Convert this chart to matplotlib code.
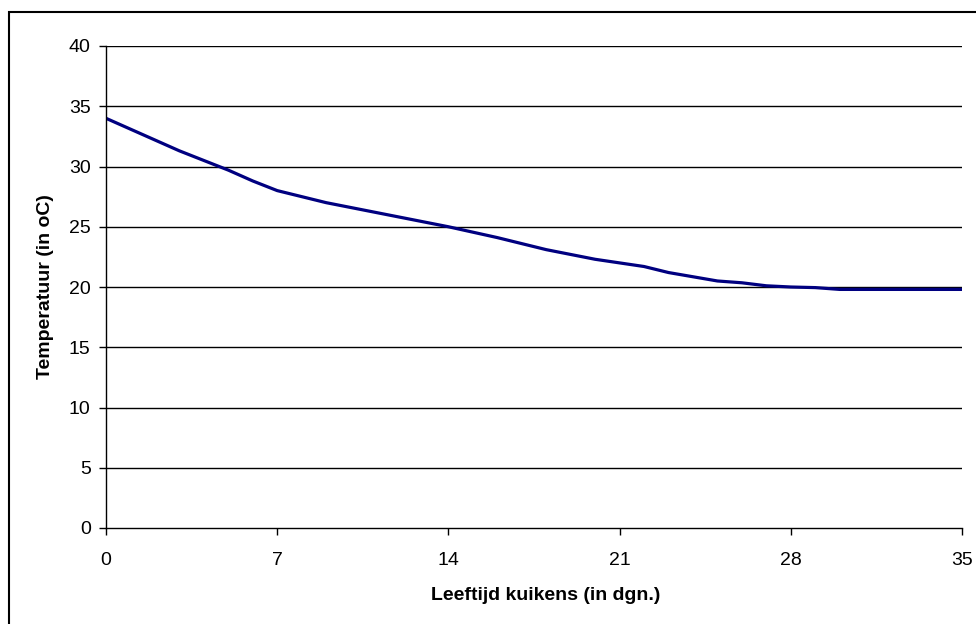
import matplotlib
matplotlib.use("Agg")
import matplotlib.pyplot as plt
from matplotlib.patches import Rectangle

plt.rcParams['font.family'] = ['Liberation Sans', 'DejaVu Sans']

# leeftijd in dagen en temperatuur (graden C)
dagen = list(range(0, 36))
temperatuur = [34.0, 33.1, 32.2, 31.3, 30.5, 29.7, 28.8, 28.0,
               27.5, 27.0, 26.6, 26.2, 25.8, 25.4, 25.0,
               24.55, 24.1, 23.6, 23.1, 22.7, 22.3, 22.0, 21.7,
               21.2, 20.85, 20.5, 20.35, 20.1, 20.0, 19.95, 19.8,
               19.8, 19.8, 19.8, 19.8, 19.8]

x_ticks = [0, 7, 14, 21, 28, 35]
y_ticks = [0, 5, 10, 15, 20, 25, 30, 35, 40]

fig = plt.figure(figsize=(9.76, 6.24), dpi=100)
ax = fig.add_axes([106 / 976, 96 / 624, 856 / 976, 482 / 624])

ax.plot(dagen, temperatuur, color='#000080', linewidth=2.3, solid_joinstyle='round')

ax.set_xlim(0, 35)
ax.set_ylim(0, 40)
ax.set_xticks(x_ticks)
ax.set_yticks(y_ticks)

for y in y_ticks[1:]:
    ax.axhline(y, color='black', linewidth=1.0, zorder=0)

for side in ['top', 'right']:
    ax.spines[side].set_visible(False)
for side in ['left', 'bottom']:
    ax.spines[side].set_color('black')
    ax.spines[side].set_linewidth(1.0)

ax.tick_params(axis='x', direction='out', length=5, width=1, pad=12, labelsize=14)
ax.tick_params(axis='y', direction='out', length=5, width=1, pad=6, labelsize=14)

ax.set_xlabel('Leeftijd kuikens (in dgn.)', fontsize=14, fontweight='bold')
ax.xaxis.set_label_coords(0.514, -0.122)
ax.set_ylabel('Temperatuur (in oC)', fontsize=14, fontweight='bold', labelpad=11)

# rand om de hele grafiek
fig.patches.append(Rectangle((9 / 976, -0.1), 1.2, 1 - 12 / 624 + 0.1, fill=False,
                             edgecolor='black', linewidth=1.5,
                             transform=fig.transFigure, clip_on=False))

fig.savefig('out.png', dpi=100)
